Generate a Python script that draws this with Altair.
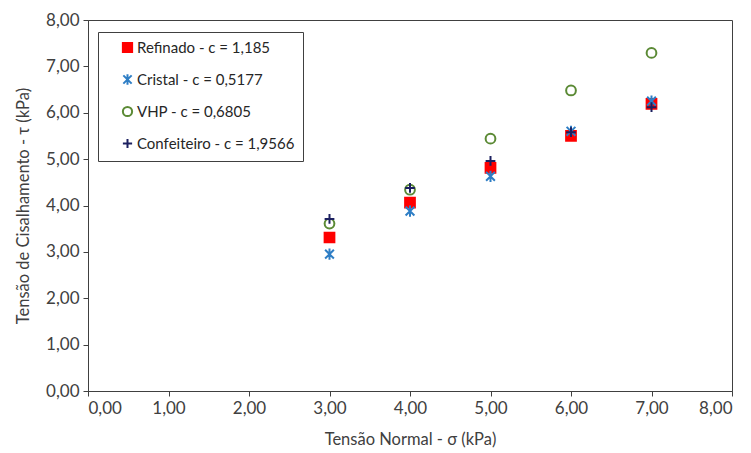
import altair as alt
import pandas as pd

series = [
    "Refinado - c = 1,185",
    "Cristal - c = 0,5177",
    "VHP - c = 0,6805",
    "Confeiteiro - c = 1,9566",
]
sigma = [3, 4, 5, 6, 7]
refinado = [3.31, 4.06, 4.81, 5.50, 6.19]
cristal = [2.95, 3.88, 4.63, 5.60, 6.25]
vhp = [3.61, 4.34, 5.44, 6.48, 7.29]
confeiteiro = [3.71, 4.38, 4.96, 5.58, 6.12]

stroke_colors = ["#FF0000", "#2E7EC5", "#5B8A35", "#1C2060"]
fill_colors = ["#FF0000", "transparent", "transparent", "transparent"]
shapes = [
    "square",
    "M-0.9,-0.9L0.9,0.9M-0.9,0.9L0.9,-0.9M0,-1.15L0,1.15",
    "circle",
    "M-1,0L1,0M0,-1L0,1",
]

rows = []
for name, vals in zip(series, [refinado, cristal, vhp, confeiteiro]):
    for x, y in zip(sigma, vals):
        rows.append({"serie": name, "sigma": x, "tau": y})
df = pd.DataFrame(rows)

fmt = "replace(format(datum.value, '.2f'), '.', ',')"
ticks = list(range(0, 9))
font = "Lato"

legend = alt.Legend(
    title=None,
    orient="none",
    legendX=10,
    legendY=12,
    padding=8,
    symbolOffset=14,
    labelOffset=2,
    rowPadding=13,
    labelFontSize=15,
    labelFont=font,
    labelColor="#262626",
    symbolSize=85,
    symbolStrokeWidth=2,
    strokeColor="#404040",
    fillColor="white",
    labelLimit=400,
)

chart = alt.Chart(df).mark_point(size=95, strokeWidth=2, opacity=1).encode(
    x=alt.X("sigma:Q", scale=alt.Scale(domain=[0, 8], nice=False),
            axis=alt.Axis(values=ticks, labelExpr=fmt, title="Tensão Normal - σ (kPa)",
                          grid=False, titlePadding=15)),
    y=alt.Y("tau:Q", scale=alt.Scale(domain=[0, 8], nice=False),
            axis=alt.Axis(values=ticks, labelExpr=fmt, title="Tensão de Cisalhamento - τ (kPa)",
                          grid=False, titlePadding=14)),
    color=alt.Color("serie:N", sort=series,
                    scale=alt.Scale(domain=series, range=stroke_colors), legend=legend),
    fill=alt.Fill("serie:N", sort=series,
                  scale=alt.Scale(domain=series, range=fill_colors), legend=legend),
    shape=alt.Shape("serie:N", sort=series,
                    scale=alt.Scale(domain=series, range=shapes), legend=legend),
).properties(
    width=644,
    height=371,
    autosize=alt.AutoSizeParams(type="none"),
    padding={"left": 80, "top": 12, "right": 11, "bottom": 62},
).configure_view(
    stroke="#404040", strokeWidth=1
).configure_axis(
    domainColor="#404040",
    tickColor="#404040",
    tickSize=5,
    labelFont=font,
    titleFont=font,
    labelFontSize=17,
    titleFontSize=16.5,
    labelColor="#404040",
    titleColor="#404040",
    titleFontWeight="normal",
    labelPadding=4,
)

chart.save("out.html", embed_options={"renderer": "svg", "actions": False})
